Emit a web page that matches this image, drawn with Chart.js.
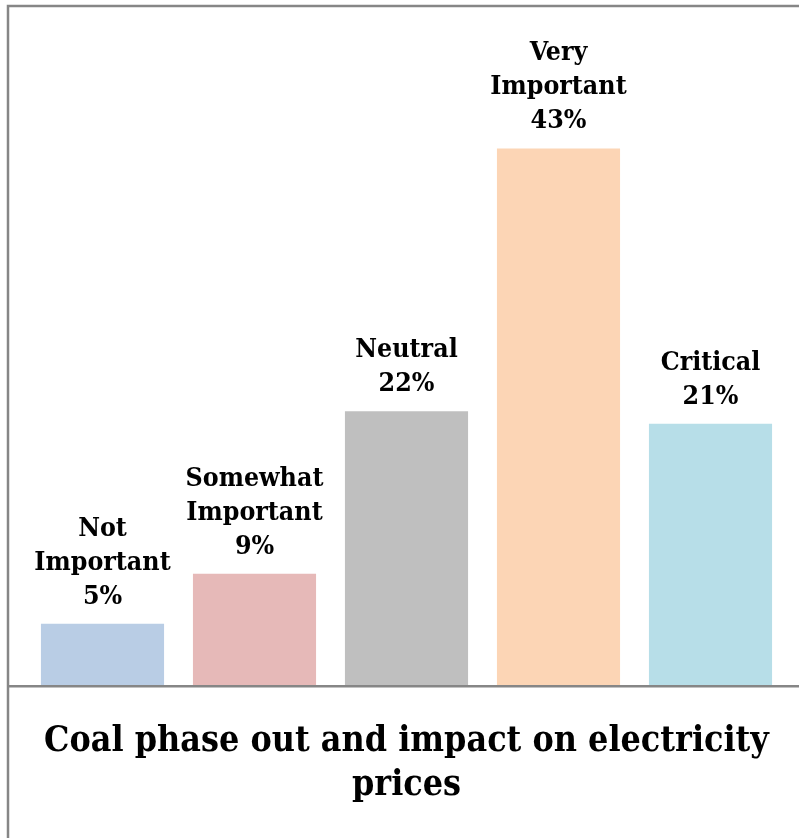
<!DOCTYPE html>
<html>
<head>
<meta charset="utf-8">
<script src="https://cdn.jsdelivr.net/npm/chart.js@4"></script>
<style>
    html, body { margin: 0; padding: 0; background: #fff; }
    #wrap { position: relative; width: 799px; height: 838px; }
</style>
</head>
<body>
<div id="wrap"><canvas id="coalChart" width="799" height="838"></canvas></div>
<script>
// ---- Data ----
const categories = [['Not', 'Important'], ['Somewhat', 'Important'], ['Neutral'], ['Very', 'Important'], ['Critical']];
const shares     = [5, 9, 22, 43, 21];
const barColors  = ['#B9CDE5', '#E6B9B8', '#BFBFBF', '#FCD5B5', '#B7DEE8'];
const titleLines = ['Coal phase out and impact on electricity', 'prices'];

const LABEL_FONT = 'bold 26.5px "DejaVu Serif Condensed", "DejaVu Serif", serif';
const FRAME_GRAY = '#868686';

// ---- Labels above bars + frame ----
const barLabels = {
    id: 'barLabels',
    afterDatasetsDraw(chart) {
        const ctx = chart.ctx;
        const meta = chart.getDatasetMeta(0);
        ctx.save();
        ctx.font = LABEL_FONT;
        ctx.fillStyle = '#000';
        ctx.textAlign = 'center';
        ctx.textBaseline = 'middle';
        meta.data.forEach((bar, i) => {
            const lines = categories[i].concat([shares[i] + '%']);
            const lineH = 34;
            let y = bar.y - 27 - (lines.length - 1) * lineH;
            lines.forEach(t => {
                ctx.fillText(t, bar.x, y);
                y += lineH;
            });
        });
        ctx.restore();
    },
    afterDraw(chart) {
        const ctx = chart.ctx;
        const y0 = chart.scales.y.getPixelForValue(0);
        ctx.save();
        ctx.strokeStyle = FRAME_GRAY;
        ctx.lineWidth = 2.5;
        ctx.beginPath();
        ctx.moveTo(8, chart.height);
        ctx.lineTo(8, 6);
        ctx.lineTo(chart.width, 6);
        ctx.moveTo(8, y0);
        ctx.lineTo(chart.width, y0);
        ctx.stroke();
        ctx.restore();
    }
};

new Chart(document.getElementById('coalChart').getContext('2d'), {
    type: 'bar',
    data: {
        labels: categories,
        datasets: [{
            data: shares,
            backgroundColor: barColors,
            borderWidth: 0,
            barPercentage: 0.81,
            categoryPercentage: 1
        }]
    },
    options: {
        responsive: false,
        animation: false,
        layout: { padding: { left: 26.5, right: 12.5, top: 61, bottom: 30 } },
        plugins: {
            legend: { display: false },
            tooltip: { enabled: false },
            title: {
                display: true,
                position: 'bottom',
                text: titleLines,
                color: '#000',
                font: { family: '"DejaVu Serif Condensed", "DejaVu Serif", serif', size: 35.5, weight: 'bold', lineHeight: 1.25 },
                padding: { top: 33, bottom: 0 }
            }
        },
        scales: {
            x: { display: false },
            y: { display: false, min: 0, max: 50 }
        }
    },
    plugins: [barLabels]
});
</script>
</body>
</html>
